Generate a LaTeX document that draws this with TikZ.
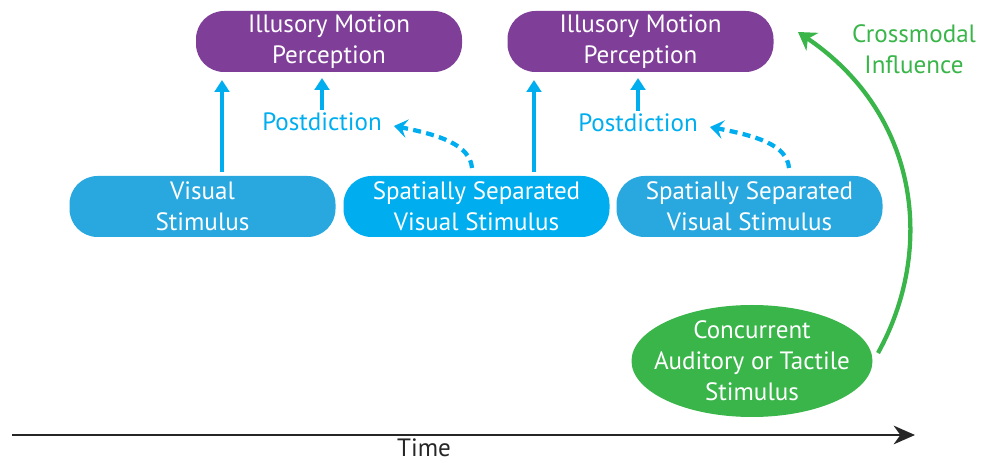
\documentclass[tikz,border=0pt]{standalone}
\usepackage{fontspec}
\setmainfont{PT Sans}
\usetikzlibrary{arrows.meta,shapes.geometric}
\definecolor{purplebox}{HTML}{7F3F98}
\definecolor{bluebox}{HTML}{29A8E0}
\definecolor{brightblue}{HTML}{00AEEF}
\definecolor{greenfill}{HTML}{39B54A}
\tikzset{
  lbl/.style={font=\fontsize{18.8}{23.2}\selectfont, align=center, inner sep=0pt},
  box/.style={lbl, text=white, minimum width=266*0.75pt, minimum height=61*0.75pt, rounded corners=21pt},
  percept/.style={box, fill=purplebox},
  stim/.style={box, fill=bluebox},
  stimb/.style={box, fill=brightblue},
  uparrow/.style={draw=brightblue, line width=3.2pt, -{Triangle[width=11pt,length=9pt]}},
  postarrow/.style={draw=brightblue, line width=3.2pt, dash pattern=on 6pt off 4pt, -{Stealth[width=14pt,length=10pt,inset=4pt]}},
  postlbl/.style={lbl, text=brightblue},
}
\begin{document}
\begin{tikzpicture}[x=0.75pt,y=-0.75pt]
\useasboundingbox (0,0) rectangle (983,463);

% perception boxes
\node[percept] (p1) at (329,41.5) {Illusory Motion\\Perception};
\node[percept] (p2) at (640.5,41.5) {Illusory Motion\\Perception};

% stimulus boxes
\node[stim]  (s1) at (202.5,206.5) {Visual\\Stimulus};
\node[stimb] (s2) at (476.5,206.5) {Spatially Separated\\Visual Stimulus};
\node[stim]  (s3) at (749.5,206.5) {Spatially Separated\\Visual Stimulus};

% postdiction labels
\node[postlbl] (pd1) at (322,122) {Postdiction};
\node[postlbl] (pd2) at (638,123) {Postdiction};

% direct arrows from stimulus to perception
\coordinate (a1s) at (222,172);
\coordinate (a1e) at (222,80);
\coordinate (a2s) at (534,172);
\coordinate (a2e) at (534,80);
\draw[uparrow] (a1s) -- (a1e);
\draw[uparrow] (a2s) -- (a2e);

% postdiction arrows
\coordinate (b1e) at (322,78);
\coordinate (b2e) at (638,78);
\draw[uparrow] (pd1.north) ++(0,-3) -- (b1e);
\draw[uparrow] (pd2.north) ++(0,-3) -- (b2e);
\coordinate (d1s) at (472,168);
\coordinate (d1e) at (394,126);
\coordinate (d2s) at (789,168);
\coordinate (d2e) at (710,127);
\draw[postarrow] (d1s) .. controls (470,145) and (440,135) .. (d1e);
\draw[postarrow] (d2s) .. controls (787,145) and (757,136) .. (d2e);

% crossmodal stimulus
\node[ellipse, fill=greenfill, inner sep=0pt, minimum width=241*0.75pt, minimum height=112*0.75pt] (c) at (752,361) {};
\node[lbl, text=white] (ct) at (c.center) {Concurrent\\Auditory or Tactile\\Stimulus};
\coordinate (g0) at (878,353);
\coordinate (g1) at (798,32);
\draw[greenfill, line width=3.2pt, -{Stealth[width=16pt,length=13pt,inset=4pt]}] (g0) .. controls (935,250) and (920,115) .. (g1);
\node[lbl, text=greenfill] (ci) at (914,49) {Crossmodal\\Influence};

% time axis
\coordinate (t0) at (12,435);
\coordinate (t1) at (915,435);
\draw[black!85, line width=1.6pt, -{Stealth[width=14pt,length=16pt,inset=5pt]}] (t0) -- (t1);
\node[lbl, text=black!85, anchor=base] (time) at (424,457) {Time};
\end{tikzpicture}
\end{document}
